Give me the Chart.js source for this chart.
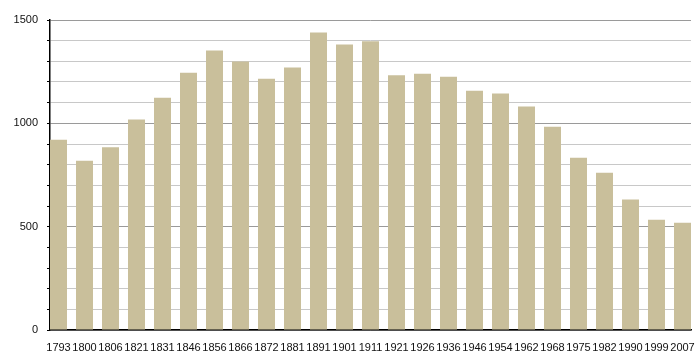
<!DOCTYPE html>
<html>
<head>
<meta charset="utf-8">
<script src="https://cdn.jsdelivr.net/npm/chart.js@4/dist/chart.umd.min.js"></script>
<style>
  html, body { margin: 0; padding: 0; background: #fff; }
  #wrap { width: 700px; height: 360px; }
</style>
</head>
<body>
<div id="wrap"><canvas id="c" width="700" height="360"></canvas></div>
<script>
const years = ["1793","1800","1806","1821","1831","1846","1856","1866","1872","1881","1891","1901","1911","1921","1926","1936","1946","1954","1962","1968","1975","1982","1990","1999","2007"];
const population = [921, 819, 884, 1018, 1124, 1245, 1352, 1299, 1216, 1270, 1439, 1381, 1397, 1233, 1240, 1226, 1158, 1144, 1081, 984, 834, 761, 631, 534, 519];
const yTickLabels = [0, 500, 1000, 1500];

const barColor = '#c9bf9b';
const halfBar = 8.5 / 26;

const points = population.map((v, i) => ({ x: i, y: v }));

new Chart(document.getElementById('c'), {
  type: 'bar',
  data: {
    datasets: [{
      data: points,
      backgroundColor: barColor,
      borderWidth: 0,
      barPercentage: 17 / 26,
      categoryPercentage: 1.0
    }]
  },
  options: {
    responsive: false,
    animation: false,
    events: [],
    layout: { padding: { top: 20, right: 9, left: 0, bottom: 0 } },
    plugins: { legend: { display: false }, tooltip: { enabled: false } },
    scales: {
      x: {
        type: 'linear',
        offset: false,
        min: -halfBar,
        max: years.length - 1 + halfBar,
        grid: { display: false, offset: false },
        border: { display: true, color: '#000', width: 1.5 },
        ticks: {
          stepSize: 1,
          includeBounds: false,
          autoSkip: false,
          maxRotation: 0,
          padding: 3,
          color: '#111',
          font: { family: 'Liberation Sans, Arial, sans-serif', size: 11 },
          callback: (v) => Number.isInteger(v) && years[v] !== undefined ? years[v] : ''
        },
        afterFit: (s) => { s.height = 30; }
      },
      y: {
        min: 0,
        max: 1500,
        grid: {
          color: (ctx) => (ctx.tick && ctx.tick.value % 500 === 0) ? '#9a9a9a' : '#c8c8c8',
          tickColor: '#000',
          tickLength: 3,
          lineWidth: 1
        },
        border: { display: true, color: '#000', width: 1.5 },
        ticks: {
          stepSize: 100,
          autoSkip: false,
          padding: 9,
          color: '#111',
          font: { family: 'Liberation Sans, Arial, sans-serif', size: 11 },
          callback: (v) => yTickLabels.includes(v) ? String(v) : ''
        },
        afterFit: (s) => { s.width = 50; }
      }
    }
  }
});
</script>
</body>
</html>
